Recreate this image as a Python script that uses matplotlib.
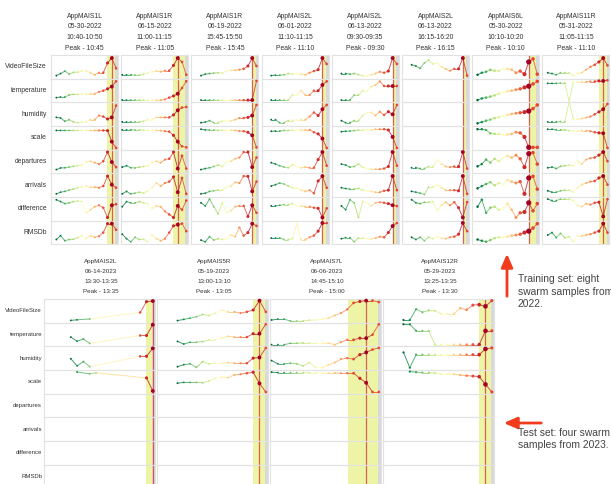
import numpy as np
import matplotlib.pyplot as plt
from matplotlib.collections import LineCollection

plt.rcParams['font.family'] = ['Liberation Sans', 'DejaVu Sans']

nan = np.nan

row_labels = ['VideoFileSize', 'temperature', 'humidity', 'scale',
              'departures', 'arrivals', 'difference', 'RMSDb']

# ---- training set (2022), one value list per sample, 0-100 = panel height
train_hives = ['AppMAIS1L', 'AppMAIS1R', 'AppMAIS1R', 'AppMAIS2L',
               'AppMAIS2L', 'AppMAIS2L', 'AppMAIS6L', 'AppMAIS11R']
train_dates = ['05-30-2022', '06-15-2022', '06-19-2022', '06-01-2022',
               '06-13-2022', '06-13-2022', '05-30-2022', '05-31-2022']
train_windows = ['10:40-10:50', '11:00-11:15', '15:45-15:50', '11:10-11:15',
                 '09:30-09:35', '16:15-16:20', '10:10-10:20', '11:05-11:15']
train_peaks = ['10:45', '11:05', '15:45', '11:10', '09:30', '16:15', '10:10', '11:10']
train_peak_idx = [13, 13, 12, 12, 12, 12, 12, 13]
train_span_start = [11.9, 11.9, 12, 12, 12, 12, 12, 12]

train_video = [
    [7, 17, 29, 14, 23, 24, 29, 31, 21, 11, 21, 21, 69, 93, 43],
    [11, 11, 11, 9, 9, 14, 20, 26, 29, 26, 31, 31, 57, 93, 74, 11],
    [7, 14, 17, 19, 21, 19, 29, 33, 33, 36, 40, 54, 93, 54],
    [7, 9, 9, 11, 17, 14, 17, 14, 11, 21, 29, 36, 93, 64],
    [17, 17, 14, 17, 11, 7, 7, 11, 17, 26, 21, 29, 93, 64],
    [60, 54, 43, 69, 83, 64, 69, 50, 40, 31, 40, 40, 93, 7],
    [11, 21, 26, 36, 31, 29, 40, 40, 36, 21, 29, 14, 74, 89, 14],
    [21, 17, 11, 21, 21, 21, 7, 17, 21, 36, 50, 60, 74, 93, 57],
]
train_temp = [
    [15, 18, 18, 28, 31, 31, 34, 34, 34, 34, 43, 49, 58, 69, 95],
    [3, 3, 3, 3, 3, 3, 3, 3, 3, 3, 6, 15, 23, 34, 62, 95],
    [3, 3, 3, 3, 3, 3, 3, 3, 3, 3, 3, 3, 3, 97],
    [3, 3, 3, 3, 3, 28, 28, 49, 28, 28, 49, 49, 77, 95],
    [3, 3, 3, 28, 28, 49, 49, 69, 77, 95, 72, 72, 72, 72],
    None,
    [3, 11, 15, 20, 26, 34, 40, 46, 49, 54, 58, 65, 71, 82, 95],
    [-104, -104, -104, -103, -103, nan, 92, 92, 92, 92, 94, 94, 97, 97, 100],
]
train_hum = [
    [34, 31, 15, 23, 12, 8, 11, 12, 23, 23, 43, 38, 26, 34, 92],
    [12, 12, 12, 12, 12, 15, 23, 23, 34, 34, 34, 34, 46, 69, 82, 85],
    [8, 11, 18, 8, 8, 15, 18, 18, 23, 31, 31, 34, 43, 95],
    [23, 23, 8, 8, 18, 18, 23, 23, 23, 38, 58, 43, 74, 95],
    [18, 8, 8, 18, 18, 43, 58, 58, 43, 62, 46, 62, 49, 95],
    None,
    [5, 11, 18, 23, 31, 35, 42, 46, 51, 54, 57, 60, 65, 77, 95],
    [201, 201, 201, 202, 202, nan, 25, 25, 28, 33, 38, 49, 61, 74, 100],
]
train_scale = [
    [86, 86, 86, 86, 86, 86, 86, 86, 86, 86, 86, 86, 85, 31, 0],
    [89, 89, 89, 88, 88, 87, 87, 87, 86, 85, 83, 80, 62, 31, 8, 3],
    [92, 89, 88, 88, 86, 88, 88, 88, 86, 83, 82, 77, 62, 3],
    [82, 83, 83, 86, 86, 88, 88, 89, 89, 89, 77, 69, 46, 0],
    [80, 82, 83, 85, 88, 88, 89, 89, 92, 92, 92, 88, 54, 0],
    None,
    [92, 92, 88, 72, 69, 69, 66, 66, 69, 77, 74, 54, 3, 3, 3],
    [92, 92, 89, 89, 88, 85, 82, 82, 85, 85, 82, 77, 74, 72, 0],
]
train_dep = [
    [10, 18, 19, 22, 26, 29, 32, 47, 51, 44, 37, 51, 96, 47, 22],
    [22, 29, 19, 18, 22, 25, 29, 44, 51, 44, 59, 63, 96, 15, 78, 15],
    [10, 15, 19, 25, 32, 25, 49, 51, 63, 69, 96, 96, 22, 69],
    [44, 37, 29, 22, 19, 34, 25, 19, 22, 19, 19, 59, 96, 29],
    [37, 32, 22, 25, 37, 22, 15, 12, 12, 12, 15, 25, 96, 29],
    [19, 19, 15, 15, 25, 25, 59, 37, 25, 22, 25, 25, 96, 15],
    [26, 37, 59, 44, 63, 51, 66, 78, 69, 81, 63, 22, 88, 93, 37],
    [19, 22, 15, 26, 29, 32, 29, 51, 37, 59, 66, 69, 81, 96, 51],
]
train_arr = [
    [7, 15, 19, 25, 30, 37, 42, 45, 40, 40, 37, 45, 94, 52, 37],
    [7, 19, 7, 10, 15, 10, 22, 37, 60, 45, 60, 67, 90, 15, 85, 7],
    [7, 10, 19, 22, 25, 25, 40, 45, 64, 60, 94, 93, 19, 67],
    [45, 52, 60, 55, 45, 37, 37, 25, 19, 25, 10, 70, 94, 37],
    [37, 33, 30, 30, 34, 25, 22, 19, 15, 15, 22, 25, 94, 25],
    [19, 15, 10, 4, 40, 40, 52, 37, 25, 25, 25, 22, 94, 7],
    [34, 45, 55, 64, 49, 60, 52, 75, 67, 60, 67, 7, 85, 93, 30],
    [22, 15, 15, 22, 25, 25, 15, 37, 52, 60, 67, 70, 85, 94, 52],
]
train_diff = [
    [94, 85, 75, 79, 85, 88, 85, 30, 45, 60, 67, 55, 7, 67, 72],
    [60, 85, 79, 79, 85, 79, 75, 52, 64, 60, 37, 22, 7, 64, 45, 90],
    [79, 64, 97, 60, 25, 79, 30, 40, 60, 64, 64, 12, 67, 30],
    [64, 64, 67, 70, 70, 75, 64, 64, 60, 60, 55, 52, 7, 52],
    [64, 45, 94, 79, 7, 85, 79, 64, 79, 82, 79, 75, 67, 63],
    [94, 79, 75, 82, 82, 85, 40, 67, 82, 67, 82, 55, 7, 82],
    [60, 94, 30, 55, 60, 45, 52, 75, 45, 7, 30, 34, 79, 40, 75],
    [97, 90, 90, 97, 97, 97, 90, 67, 60, 75, 70, 79, 82, 12, 97],
]
train_rmsdb = [
    [15, 34, 9, 15, 16, 24, 34, 19, 34, 26, 31, 49, 93, 93, 63],
    [41, 19, 4, 26, 15, 16, 4, 38, 19, 9, 19, 49, 82, 88, 93, 56],
    [12, 4, 29, 12, 19, 15, 19, 37, 29, 74, 34, 49, 93, 82],
    [22, 22, 22, 15, 15, 19, 93, 15, 15, 26, 34, 56, 96, 96],
    [19, 24, 24, 4, 22, 22, 19, 19, 22, 29, 26, 49, 81, 96],
    [26, 15, 26, 9, 26, 19, 29, 22, 19, 26, 29, 41, 96, 56],
    [15, 9, 4, 12, 22, 26, 26, 29, 34, 37, 41, 49, 56, 71, 93],
    [37, 49, 24, 45, 24, 29, 4, 34, 34, 37, 41, 49, 56, 93, 49],
]

# ---- test set (2023), only the first four variables recorded
test_hives = ['AppMAIS2L', 'AppMAIS5R', 'AppMAIS7L', 'AppMAIS12R']
test_dates = ['06-14-2023', '05-19-2023', '06-06-2023', '05-29-2023']
test_windows = ['13:30-13:35', '13:00-13:10', '14:45-15:10', '13:25-13:35']
test_peaks = ['13:35', '13:05', '15:00', '13:30']
test_peak_idx = [13, 13, 15, 13]
test_span_start = [12, 12, 12.1, 12]

test_video = [
    [3, 6, nan, 10, nan, nan, nan, nan, nan, nan, nan, 42, 95, 98],
    [2, 8, 14, 21, 32, 27, 39, 54, 45, 45, 39, 45, 54, 100, 45],
    [5, 9, 9, 0, 0, 0, 4, 5, 9, 14, 27, 39, 57, 89, 96, 100, 100, 93],
    [5, 5, 58, 43, 52, 50, 35, 35, 35, 63, 55, 78, 80, 72, 100],
]
test_temp = [
    [37, 17, 28, 6, nan, nan, nan, nan, nan, nan, nan, 45, 45, 98],
    [16, 3, 12, 12, 15, 24, 24, 32, 41, 37, 37, 37, 54, 54, 100],
    [0, 0, 0, 7, 7, 8, 8, 8, 8, 8, 0, 12, 24, 24, 32, 32, 49, 100],
    [100, 100, 68, 68, 68, 0, 0, 0, 0, 0, 0, 0, 0, 68, 68],
]
test_hum = [
    [47, 12, 33, 8, nan, nan, nan, nan, nan, nan, nan, 59, 59, 98],
    [8, 18, 22, 5, 33, 22, 25, 25, 28, 25, 25, 25, 50, 53, 100],
    [38, 22, 22, 25, 22, 12, 28, 5, 3, 17, 28, 45, 50, 45, 67, 78, 92, 100],
    [78, 3, 67, 67, 67, 67, 67, 67, 67, 67, 67, 67, 67, 95, 100],
]
test_scale = [
    [nan, 98, nan, 89, 94, nan, nan, nan, nan, nan, nan, nan, 69, 5],
    [43, 47, 47, 47, 45, 55, 67, 72, 70, 83, 87, 92, 97, 42, 0],
    [97, 95, 95, 95, 95, 95, 94, 94, 93, 93, 93, 92, 92, 92, 67, 45, 0, 0],
    [nan, 100, 97, 95, 95, 92, 88, 88, 87, 83, 80, 78, 75, 37, 0],
]

W, H = 611, 484
fig = plt.figure(figsize=(W / 100, H / 100), dpi=100)
cmap = plt.get_cmap('RdYlGn_r')
text_col = '#333333'


def px_axes(x, y, w, h):
    ax = fig.add_axes([x / W, 1 - (y + h) / H, w / W, h / H])
    ax.set_facecolor('none')
    return ax


def draw_panel(ax, vals, n, peak, span0, window, pad_r, mscale):
    right = n - 1 + pad_r
    ax.set_xlim(right - window, right)
    ax.set_ylim(-8, 108)
    ax.set_xticks([])
    ax.set_yticks([])
    for sp in ax.spines.values():
        sp.set_color('#e2e2e2')
        sp.set_linewidth(0.8)
    ax.axvspan(span0, n - 1.2, color='#eef4a6', lw=0, zorder=0)
    ax.axvspan(n - 1.2, right, color='#d9d9d9', lw=0, zorder=0)
    ax.axvline(peak, color='#d23c3c', lw=0.9, alpha=0.8, zorder=1)
    if vals is None:
        return
    v = np.array(vals, dtype=float)
    idx = np.arange(len(v))
    c = np.where(idx <= peak, idx / peak, 0.86)
    ok = ~np.isnan(v)
    xs, ys, cs = idx[ok], v[ok], c[ok]
    segs = [[(xs[k], ys[k]), (xs[k + 1], ys[k + 1])] for k in range(len(xs) - 1)]
    seg_cols = [cmap((cs[k] + cs[k + 1]) / 2) for k in range(len(xs) - 1)]
    lc = LineCollection(segs, colors=seg_cols, linewidths=0.7, alpha=0.75,
                        zorder=2, clip_on=False)
    ax.add_collection(lc)
    sizes = mscale * (1.8 + 6 * cs ** 8)
    ax.scatter(xs, ys, s=sizes, c=cmap(cs), lw=0, zorder=3, clip_on=False)


def header(xc, y0, lines, pitch, size):
    for k, t in enumerate(lines):
        fig.text(xc / W, 1 - (y0 + k * pitch) / H, t, ha='center', va='center',
                 fontsize=size, color=text_col)


row_h = 23.65

# training grid
train_series = [train_video, train_temp, train_hum, train_scale,
                train_dep, train_arr, train_diff, train_rmsdb]
train_mscale = [1, 1, 1, 1, 1, 1, 1.8, 1]
for j in range(len(train_hives)):
    x0 = 51 + 70.2 * j
    n = len(train_video[j])
    header(x0 + 33.5, 16, [train_hives[j], train_dates[j], train_windows[j],
                           'Peak - ' + train_peaks[j]], 10.7, 4.9)
    for r, series in enumerate(train_series):
        ax = px_axes(x0, 55 + r * row_h, 67, row_h)
        draw_panel(ax, series[j], n, train_peak_idx[j], train_span_start[j],
                   15.7, 0.45, train_mscale[j])

for r, lab in enumerate(row_labels):
    fig.text(47 / W, 1 - (55 + (r + 0.5) * row_h) / H, lab, ha='right',
             va='center', fontsize=4.9, color=text_col)

# test grid
test_series = [test_video, test_temp, test_hum, test_scale, None, None, None, None]
test_mscale = [1, 1, 1, 1.4]
for j in range(len(test_hives)):
    x0 = 44 + 113 * j
    n = len(test_video[j])
    header(x0 + 57, 261, [test_hives[j], test_dates[j], test_windows[j],
                          'Peak - ' + test_peaks[j]], 10.3, 4.5)
    for r, series in enumerate(test_series):
        ax = px_axes(x0, 299 + r * row_h, 111, row_h)
        vals = series[j] if series is not None else None
        draw_panel(ax, vals, n, test_peak_idx[j], test_span_start[j],
                   17.6, 0.35, test_mscale[j])

for r, lab in enumerate(row_labels):
    fig.text(42 / W, 1 - (299 + (r + 0.5) * row_h) / H, lab, ha='right',
             va='center', fontsize=4.3, color=text_col)

# annotations
ov = fig.add_axes([0, 0, 1, 1])
ov.set_xlim(0, W)
ov.set_ylim(H, 0)
ov.axis('off')
arrow_col = '#f23b1c'
ov.annotate('', xy=(507, 251), xytext=(507, 299),
            arrowprops=dict(arrowstyle='-|>,head_width=0.35,head_length=0.8',
                            color=arrow_col, lw=2))
ov.annotate('', xy=(501, 423), xytext=(544, 423),
            arrowprops=dict(arrowstyle='-|>,head_width=0.35,head_length=0.8',
                            color=arrow_col, lw=2))
ov.text(518, 274.5, 'Training set: eight\nswarm samples from\n2022.', fontsize=7.4,
        va='top', ha='left', color='#444444', linespacing=1.3)
ov.text(518, 427.5, 'Test set: four swarm\nsamples from 2023.', fontsize=7.4,
        va='top', ha='left', color='#444444', linespacing=1.3)

fig.savefig('out.png', dpi=100)
